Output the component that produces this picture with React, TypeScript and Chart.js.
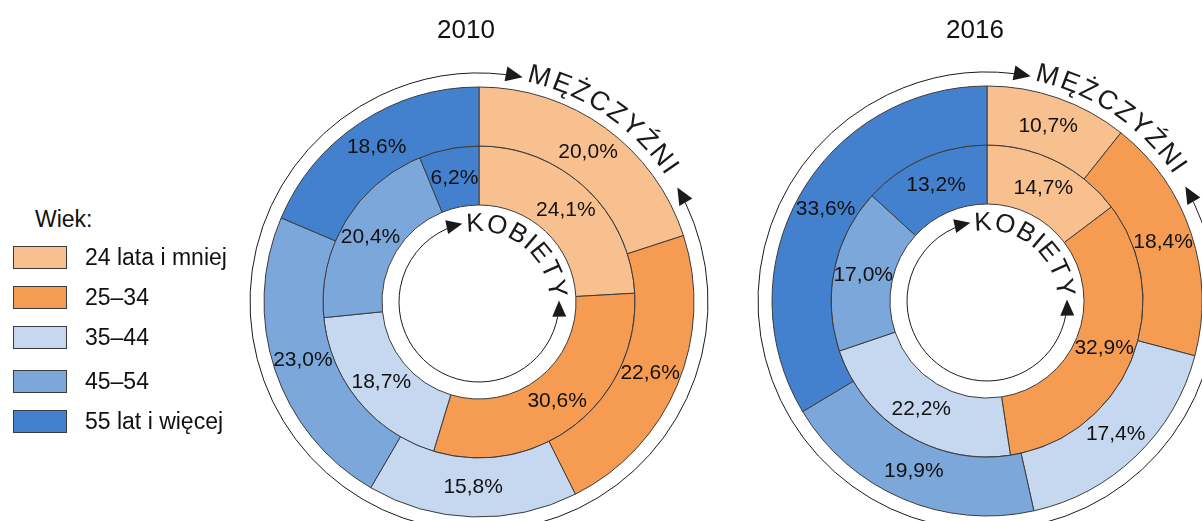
import React, { useEffect, useRef } from 'react';
import { Chart, registerables } from 'chart.js';

Chart.register(...registerables);

const categories = ['24 lata i mniej', '25–34', '35–44', '45–54', '55 lat i więcej'];
const colors = ['#F9C08F', '#F59C52', '#C5D8F0', '#7BA7DB', '#4381CF'];
const years = ['2010', '2016'];
const men2010 = [20.0, 22.6, 15.8, 23.0, 18.6];
const women2010 = [24.1, 30.6, 18.7, 20.4, 6.2];
const men2016 = [10.7, 18.4, 17.4, 19.9, 33.6];
const women2016 = [14.7, 32.9, 22.2, 17.0, 13.2];
const menLabel = 'MĘŻCZYŹNI';
const womenLabel = 'KOBIETY';
const legendTitle = 'Wiek:';

const FONT = '"Liberation Sans", Arial, Helvetica, sans-serif';
const deg = (d: number) => (d * Math.PI) / 180;

function pt(cx: number, cy: number, r: number, a: number) {
  return { x: cx + r * Math.sin(deg(a)), y: cy - r * Math.cos(deg(a)) };
}

function arrowHead(ctx: CanvasRenderingContext2D, cx: number, cy: number, r: number, a: number, clockwise: boolean, len: number, wid: number) {
  const tip = pt(cx, cy, r, a);
  let dx = Math.cos(deg(a));
  let dy = Math.sin(deg(a));
  if (!clockwise) { dx = -dx; dy = -dy; }
  const bx = tip.x - dx * len;
  const by = tip.y - dy * len;
  const nx = -dy, ny = dx;
  ctx.beginPath();
  ctx.moveTo(tip.x, tip.y);
  ctx.lineTo(bx + nx * wid / 2, by + ny * wid / 2);
  ctx.lineTo(bx - nx * wid / 2, by - ny * wid / 2);
  ctx.closePath();
  ctx.fill();
}

function arcWithArrows(ctx: CanvasRenderingContext2D, cx: number, cy: number, r: number, aStartTip: number, aEndTip: number, len: number, wid: number) {
  const da = (len / r) * 180 / Math.PI;
  ctx.beginPath();
  ctx.arc(cx, cy, r, deg(aStartTip + da - 90), deg(aEndTip - da - 90), false);
  ctx.stroke();
  arrowHead(ctx, cx, cy, r, aEndTip, true, len, wid);
  arrowHead(ctx, cx, cy, r, aStartTip, false, len, wid);
}

function textOnCircle(ctx: CanvasRenderingContext2D, text: string, cx: number, cy: number, r: number, a0: number, a1: number, size: number) {
  ctx.font = `${size}px ${FONT}`;
  ctx.textAlign = 'center';
  ctx.textBaseline = 'middle';
  const chars = Array.from(text);
  const widths = chars.map((c) => ctx.measureText(c).width);
  const centers: number[] = [];
  let acc = 0;
  widths.forEach((w) => { centers.push(acc + w / 2); acc += w; });
  const c0 = centers[0];
  const c1 = centers[centers.length - 1];
  chars.forEach((ch, i) => {
    const a = a0 + ((centers[i] - c0) / (c1 - c0)) * (a1 - a0);
    ctx.save();
    ctx.translate(cx, cy);
    ctx.rotate(deg(a));
    ctx.fillText(ch, 0, -r);
    ctx.restore();
  });
}

const decorPlugin = {
  id: 'decor',
  afterDraw(chart: any) {
    const meta = chart.getDatasetMeta(0);
    if (!meta.data.length) return;
    const cx = meta.data[0].x;
    const cy = meta.data[0].y;
    const ctx = chart.ctx as CanvasRenderingContext2D;
    ctx.save();
    ctx.strokeStyle = '#1a1a1a';
    ctx.fillStyle = '#1a1a1a';
    ctx.lineWidth = 1;
    arcWithArrows(ctx, cx, cy, 229, 60, 371, 17, 15);
    arcWithArrows(ctx, cx, cy, 80, 89, 348, 16, 14);
    textOnCircle(ctx, menLabel, cx, cy, 233, 15, 55, 27);
    textOnCircle(ctx, womenLabel, cx, cy, 78, -3, 80, 26);
    ctx.restore();
  },
};

const valueLabelPlugin = {
  id: 'valueLabels',
  afterDatasetsDraw(chart: any) {
    const ctx = chart.ctx as CanvasRenderingContext2D;
    ctx.save();
    ctx.font = `21px ${FONT}`;
    ctx.fillStyle = '#111';
    ctx.textAlign = 'center';
    ctx.textBaseline = 'middle';
    chart.data.datasets.forEach((ds: any, di: number) => {
      const meta = chart.getDatasetMeta(di);
      meta.data.forEach((arc: any, i: number) => {
        const p = arc.tooltipPosition();
        const v = ds.data[i] as number;
        ctx.fillText(v.toFixed(1).replace('.', ',') + '%', p.x, p.y);
      });
    });
    ctx.restore();
  },
};

function Donut({ men, women, left, top }: { men: number[]; women: number[]; left: number; top: number }) {
  const ref = useRef<HTMLCanvasElement | null>(null);
  useEffect(() => {
    if (!ref.current) return;
    const chart = new Chart(ref.current, {
      type: 'doughnut',
      data: {
        labels: categories,
        datasets: [
          { label: 'Mężczyźni', data: men, backgroundColor: colors, borderColor: '#3c3c3c', borderWidth: 1 },
          { label: 'Kobiety', data: women, backgroundColor: colors, borderColor: '#3c3c3c', borderWidth: 1 },
        ],
      },
      options: {
        responsive: false,
        maintainAspectRatio: false,
        animation: false,
        radius: 215,
        cutout: `${(97 / 215) * 100}%`,
        layout: { padding: 0 },
        plugins: { legend: { display: false }, tooltip: { enabled: false } },
      } as any,
      plugins: [valueLabelPlugin, decorPlugin],
    });
    return () => chart.destroy();
  }, [men, women]);
  return (
    <canvas ref={ref} width={540} height={540} style={{ position: 'absolute', left, top, width: 540, height: 540 }} />
  );
}

export default function App() {
  const rowTops = [246, 286, 326, 370, 410];
  return (
    <div style={{ position: 'fixed', left: 0, top: 0, width: 1202, height: 521, overflow: 'hidden', background: '#fff', fontFamily: FONT, color: '#111' }}>
      <Donut men={men2010} women={women2010} left={479 - 270} top={302 - 270} />
      <Donut men={men2016} women={women2016} left={987 - 270} top={301 - 270} />
      <div style={{ position: 'absolute', left: 366, top: 16, width: 200, textAlign: 'center', fontSize: 26, lineHeight: '26px' }}>{years[0]}</div>
      <div style={{ position: 'absolute', left: 875, top: 16, width: 200, textAlign: 'center', fontSize: 26, lineHeight: '26px' }}>{years[1]}</div>
      <div style={{ position: 'absolute', left: 35, top: 207.5, fontSize: 23, lineHeight: '23px' }}>{legendTitle}</div>
      {categories.map((c, i) => (
        <div key={c}>
          <div style={{ position: 'absolute', left: 13, top: rowTops[i], width: 52, height: 21, background: colors[i], border: '1px solid #3c3c3c' }} />
          <div style={{ position: 'absolute', left: 85, top: rowTops[i] - 0.5, fontSize: 23, lineHeight: '23px', whiteSpace: 'nowrap' }}>{c}</div>
        </div>
      ))}
    </div>
  );
}
